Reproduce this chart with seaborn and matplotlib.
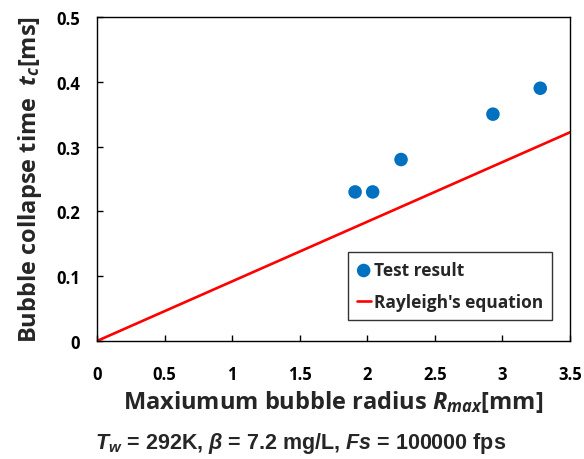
import matplotlib
matplotlib.use("Agg")
import matplotlib.pyplot as plt
import seaborn as sns
import pandas as pd

# Measured collapse times
r_max_test = [1.91, 2.04, 2.25, 2.93, 3.28]
t_c_test = [0.23, 0.23, 0.28, 0.35, 0.39]

# Rayleigh collapse-time prediction
r_max_rayleigh = [0.0, 3.5]
t_c_rayleigh = [0.0, 0.322]

x_ticks = [0, 0.5, 1, 1.5, 2, 2.5, 3, 3.5]
x_tick_labels = ["0", "0.5", "1", "1.5", "2", "2.5", "3", "3.5"]
y_ticks = [0, 0.1, 0.2, 0.3, 0.4, 0.5]
y_tick_labels = ["0", "0.1", "0.2", "0.3", "0.4", "0.5"]

test_df = pd.DataFrame({"R": r_max_test, "t": t_c_test})
ray_df = pd.DataFrame({"R": r_max_rayleigh, "t": t_c_rayleigh})

sns.set_style("ticks")
plt.rcParams["font.family"] = ["Open Sans", "DejaVu Sans"]
plt.rcParams["mathtext.fontset"] = "custom"
plt.rcParams["mathtext.it"] = "Open Sans:bold:italic"
plt.rcParams["mathtext.rm"] = "Open Sans:bold"
plt.rcParams["mathtext.bf"] = "Liberation Sans:bold"
plt.rcParams["mathtext.bfit"] = "Liberation Sans:bold:italic"

fig = plt.figure(figsize=(5.84, 4.6), dpi=100)
ax = fig.add_axes([0.166, 0.2565, 0.81, 0.7045])

sns.lineplot(data=ray_df, x="R", y="t", ax=ax, color="#FF0000", linewidth=1.9,
             label="Rayleigh's equation", zorder=2)
sns.scatterplot(data=test_df, x="R", y="t", ax=ax, color="#0070C0", s=95,
                edgecolor="none", label="Test result", zorder=3)

ax.set_xlim(0, 3.5)
ax.set_ylim(0, 0.5)
ax.set_xticks(x_ticks)
ax.set_xticklabels(x_tick_labels)
ax.set_yticks(y_ticks)
ax.set_yticklabels(y_tick_labels)
ax.tick_params(direction="in", length=4, width=1, colors="black", labelsize=12)
ax.tick_params(axis="x", pad=17)
ax.tick_params(axis="y", pad=12)
for lab in ax.get_xticklabels() + ax.get_yticklabels():
    lab.set_fontweight("bold")
for sp in ax.spines.values():
    sp.set_visible(True)
    sp.set_color("black")
    sp.set_linewidth(1.0)

ax.set_xlabel(r"Maxiumum bubble radius $\mathit{R}_{\mathit{max}}$[mm]",
              fontsize=17, fontweight="bold", labelpad=4)
ax.set_ylabel(r"Bubble collapse time  $\mathit{t}_{\mathit{c}}$[ms]",
              fontsize=17, fontweight="bold", labelpad=9)

handles, labels = ax.get_legend_handles_labels()
order = [labels.index("Test result"), labels.index("Rayleigh's equation")]
leg = ax.legend([handles[i] for i in order], [labels[i] for i in order],
                loc="lower right", bbox_to_anchor=(0.962, 0.066),
                frameon=True, fancybox=False, edgecolor="black",
                prop={"weight": "bold", "size": 12.5},
                handlelength=0.8, handletextpad=0.2, borderpad=0.5,
                labelspacing=0.8, markerscale=1.0, borderaxespad=0)
leg.get_frame().set_linewidth(1.0)

fig.text(0.515, 0.036,
         r"$\mathbfit{T}_{\mathbfit{w}}$ = 292K, $\mathbfit{\beta}$ = 7.2 mg/L, $\mathbfit{Fs}$ = 100000 fps",
         ha="center", va="center", fontsize=15.5, fontweight="bold",
         family=["Liberation Sans", "DejaVu Sans"])

fig.savefig("out.png", dpi=100)
